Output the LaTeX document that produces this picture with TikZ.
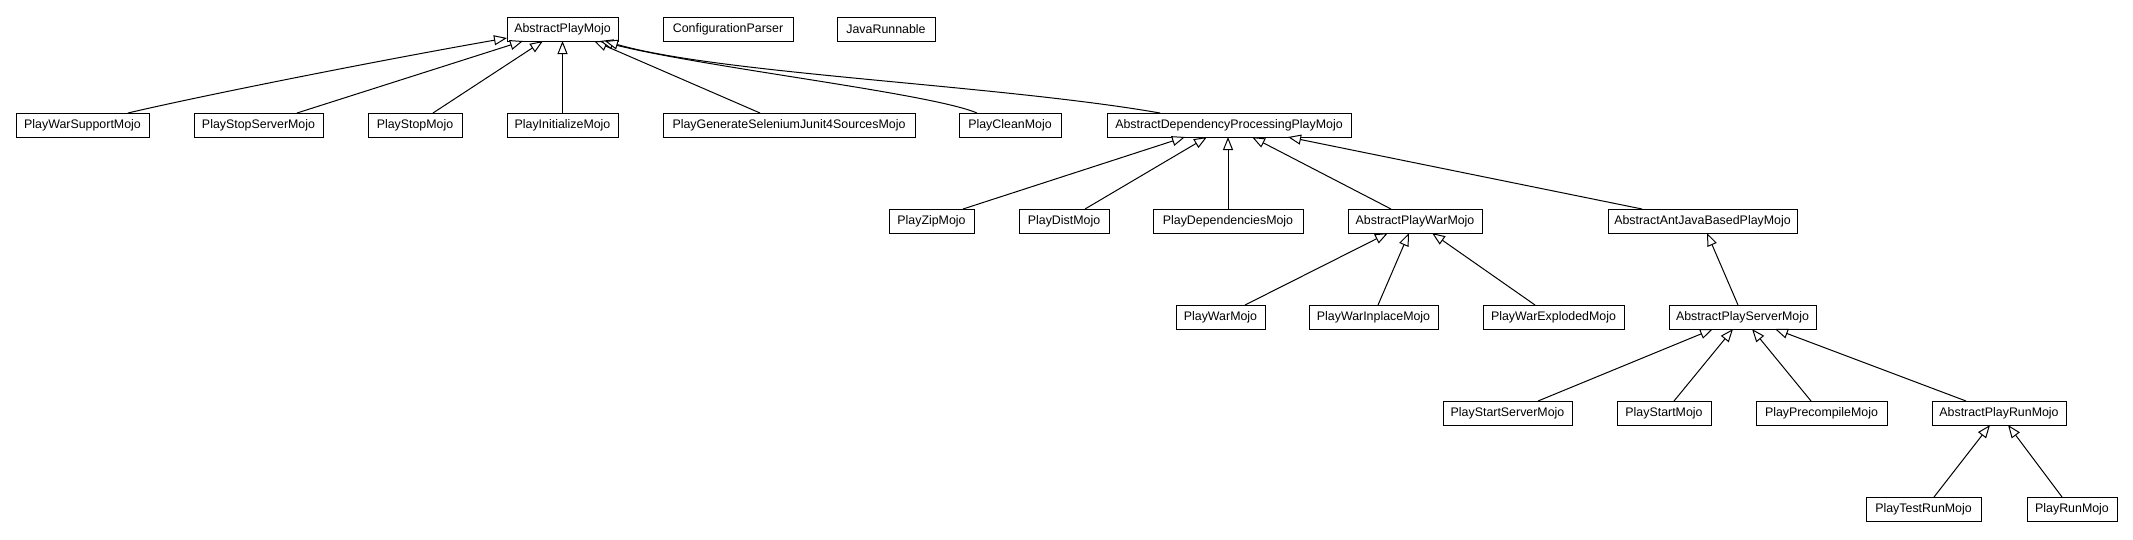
\documentclass[tikz,border=0pt]{standalone}
\usepackage{fontspec}
\setmainfont{Liberation Sans}
\usetikzlibrary{arrows.meta}
\begin{document}
\begin{tikzpicture}[x=1pt,y=-1pt,
  box/.style={draw=black, line width=1pt, fill=white, minimum height=24pt, inner sep=0pt, outer sep=0pt,
     font=\fontsize{12.4}{14}\selectfont},
  inh/.style={draw=black, line width=1pt, -{Triangle[length=13pt,width=10pt,fill=white,line width=1pt]}}]
\useasboundingbox[fill=white] (0,0) rectangle (2133,539);
% row 1
\node[box, minimum width=111pt] (apm) at (562.5,29) {AbstractPlayMojo};
\node[box, minimum width=130pt] (cp) at (728,29) {ConfigurationParser};
\node[box, minimum width=98pt] (jr) at (886,29) {JavaRunnable};
% row 2
\node[box, minimum width=133pt] (pwsm) at (82.5,125) {PlayWarSupportMojo};
\node[box, minimum width=129pt] (pssm) at (258.5,125) {PlayStopServerMojo};
\node[box, minimum width=94pt] (psm) at (415,125) {PlayStopMojo};
\node[box, minimum width=111pt] (pim) at (562.5,125) {PlayInitializeMojo};
\node[box, minimum width=252pt] (pgsm) at (789,125) {PlayGenerateSeleniumJunit4SourcesMojo};
\node[box, minimum width=102pt] (pcm) at (1010,125) {PlayCleanMojo};
\node[box, minimum width=244pt] (adpp) at (1229,125) {AbstractDependencyProcessingPlayMojo};
% row 3
\node[box, minimum width=85pt] (pzm) at (931.5,221) {PlayZipMojo};
\node[box, minimum width=90pt] (pdm) at (1064,221) {PlayDistMojo};
\node[box, minimum width=150pt] (pdepm) at (1228,221) {PlayDependenciesMojo};
\node[box, minimum width=134pt] (apwm) at (1415,221) {AbstractPlayWarMojo};
\node[box, minimum width=189pt] (aajb) at (1702.5,221) {AbstractAntJavaBasedPlayMojo};
% row 4
\node[box, minimum width=89pt] (pwm) at (1220.5,317) {PlayWarMojo};
\node[box, minimum width=129pt] (pwim) at (1373.5,317) {PlayWarInplaceMojo};
\node[box, minimum width=141pt] (pwem) at (1553.5,317) {PlayWarExplodedMojo};
\node[box, minimum width=147pt] (apsm) at (1742.5,317) {AbstractPlayServerMojo};
% row 5
\node[box, minimum width=129pt] (pstsm) at (1507.5,413) {PlayStartServerMojo};
\node[box, minimum width=94pt] (pstm) at (1664,413) {PlayStartMojo};
\node[box, minimum width=131pt] (ppm) at (1821.5,413) {PlayPrecompileMojo};
\node[box, minimum width=134pt] (aprm) at (1999,413) {AbstractPlayRunMojo};
% row 6
\node[box, minimum width=115pt] (ptrm) at (1923.5,509) {PlayTestRunMojo};
\node[box, minimum width=90pt] (prm) at (2072,509) {PlayRunMojo};
% connectors to AbstractPlayMojo
\draw[inh] ([xshift=45.5pt]pwsm.north) .. controls +(72,-17) and +(-126,22) .. ([yshift=-9pt]apm.west);
\draw[inh] ([xshift=38.5pt]pssm.north) -- ([xshift=-39.5pt]apm.south);
\draw[inh] ([xshift=18pt]psm.north) -- ([xshift=-19.5pt]apm.south);
\draw[inh] (pim.north) -- (apm.south);
\draw[inh] ([xshift=-29pt]pgsm.north) -- ([xshift=31.5pt]apm.south);
\draw[inh] ([xshift=-33pt]pcm.north) .. controls +(-47,-20) and +(100,26) .. ([xshift=37.5pt]apm.south);
\draw[inh] ([xshift=-69pt]adpp.north) .. controls +(-160,-28) and +(115,33) .. ([xshift=42.5pt]apm.south);
% connectors to AbstractDependencyProcessingPlayMojo
\draw[inh] ([xshift=31.5pt]pzm.north) -- ([xshift=-44pt]adpp.south);
\draw[inh] ([xshift=21pt]pdm.north) -- ([xshift=-22pt]adpp.south);
\draw[inh] (pdepm.north) -- (pdepm.north |- adpp.south);
\draw[inh] ([xshift=-24pt]apwm.north) -- ([xshift=23pt]adpp.south);
\draw[inh] ([xshift=-60.5pt]aajb.north) -- ([xshift=59pt]adpp.south);
% connectors to AbstractPlayWarMojo
\draw[inh] ([xshift=24.5pt]pwm.north) -- ([xshift=-27pt]apwm.south);
\draw[inh] ([xshift=4.5pt]pwim.north) -- ([xshift=-6pt]apwm.south);
\draw[inh] ([xshift=-18.5pt]pwem.north) -- ([xshift=17pt]apwm.south);
% AbstractPlayServerMojo to AbstractAntJavaBasedPlayMojo
\draw[inh] ([xshift=-4.5pt]apsm.north) -- ([xshift=4.5pt]aajb.south);
% connectors to AbstractPlayServerMojo
\draw[inh] ([xshift=30.5pt]pstsm.north) -- ([xshift=-29.5pt]apsm.south);
\draw[inh] ([xshift=10pt]pstm.north) -- ([xshift=-9.5pt]apsm.south);
\draw[inh] ([xshift=-10.5pt]ppm.north) -- ([xshift=9.5pt]apsm.south);
\draw[inh] ([xshift=-33pt]aprm.north) -- ([xshift=32.5pt]apsm.south);
% connectors to AbstractPlayRunMojo
\draw[inh] ([xshift=10.5pt]ptrm.north) -- ([xshift=-9pt]aprm.south);
\draw[inh] ([xshift=-10pt]prm.north) -- ([xshift=9pt]aprm.south);
\end{tikzpicture}
\end{document}
